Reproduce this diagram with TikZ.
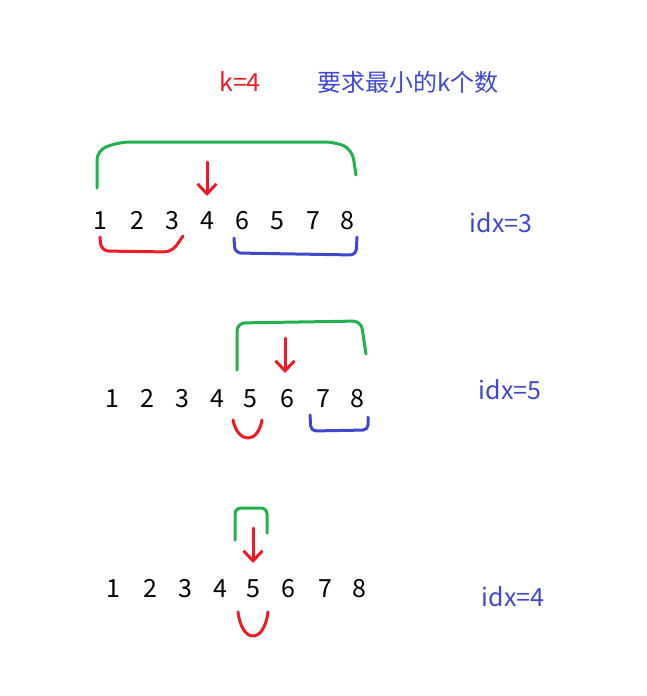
\documentclass[tikz,border=0pt]{standalone}
\usepackage{fontspec}
\setmainfont{Noto Sans CJK SC}
\usepackage{xcolor}
\usetikzlibrary{positioning,arrows.meta}

\definecolor{penred}{HTML}{ED1C24}
\definecolor{pengreen}{HTML}{22B14C}
\definecolor{penblue}{HTML}{3F48CC}

\begin{document}
\begin{tikzpicture}[x=1pt,y=-1pt,
    digit/.style={inner sep=0pt,anchor=base,font=\fontsize{25}{29}\selectfont},
    redtext/.style={digit,text=penred},
    bluetext/.style={digit,text=penblue},
    greenpen/.style={draw=pengreen,line width=3pt,line cap=round,line join=round},
    redpen/.style={draw=penred,line width=3pt,line cap=round,line join=round},
    bluepen/.style={draw=penblue,line width=3pt,line cap=round,line join=round},
    pointer/.style={redpen,-{Straight Barb[length=10pt,width=19pt,line width=3pt]}}]
    \useasboundingbox (0,0) rectangle (647,696);

    % Title
    \node[redtext] (k) at (240,91) {k=4};
    \node[bluetext,font=\fontsize{24}{28}\selectfont] (goal) at (408,91) {要求最小的k个数};

    % Row 1
    \foreach \d/\x [count=\i] in {1/100,2/137,3/172,4/207,6/242,5/277,7/313,8/347}
        \node[digit] (a\i) at (\x,229) {\d};
    \node[bluetext] (idx1) at (501,232) {idx=3};
    \draw[greenpen,rounded corners=10] (97,188) -- (97,150) -- (120,142) -- (335,142) -- (352,149) -- (356,175);
    \coordinate (s1) at (207,162);
    \coordinate (e1) at (207,196);
    \draw[pointer] (s1) -- (e1);
    \draw[redpen,rounded corners=8] (100,237) -- (101,251) -- (172,252) -- (183,236);
    \draw[bluepen,rounded corners=6] (234,238) -- (235,253) -- (356,255) -- (357,237);

    % Row 2
    \foreach \d/\x [count=\i] in {1/112,2/147,3/182,4/217,5/250,6/287,7/323,8/357}
        \node[digit] (b\i) at (\x,407) {\d};
    \node[bluetext] (idx2) at (510,399) {idx=5};
    \draw[greenpen,rounded corners=8] (237,370) -- (237,323) -- (361,321) -- (366,354);
    \coordinate (s2) at (285,338);
    \coordinate (e2) at (285,373);
    \draw[pointer] (s2) -- (e2);
    \draw[redpen] (233,420) .. controls (238,444) and (258,444) .. (262,420);
    \draw[bluepen,rounded corners=5] (310,415) -- (311,431) -- (368,430) -- (368,417);

    % Row 3
    \foreach \d/\x [count=\i] in {1/113,2/150,3/185,4/220,5/253,6/288,7/325,8/359}
        \node[digit] (c\i) at (\x,597) {\d};
    \node[bluetext] (idx3) at (513,606) {idx=4};
    \draw[greenpen,rounded corners=6] (235,540) -- (235,508) -- (267,508) -- (267,533);
    \coordinate (s3) at (253,528);
    \coordinate (e3) at (253,563);
    \draw[pointer] (s3) -- (e3);
    \draw[redpen] (238,612) .. controls (242,644) and (264,644) .. (268,612);
\end{tikzpicture}
\end{document}
